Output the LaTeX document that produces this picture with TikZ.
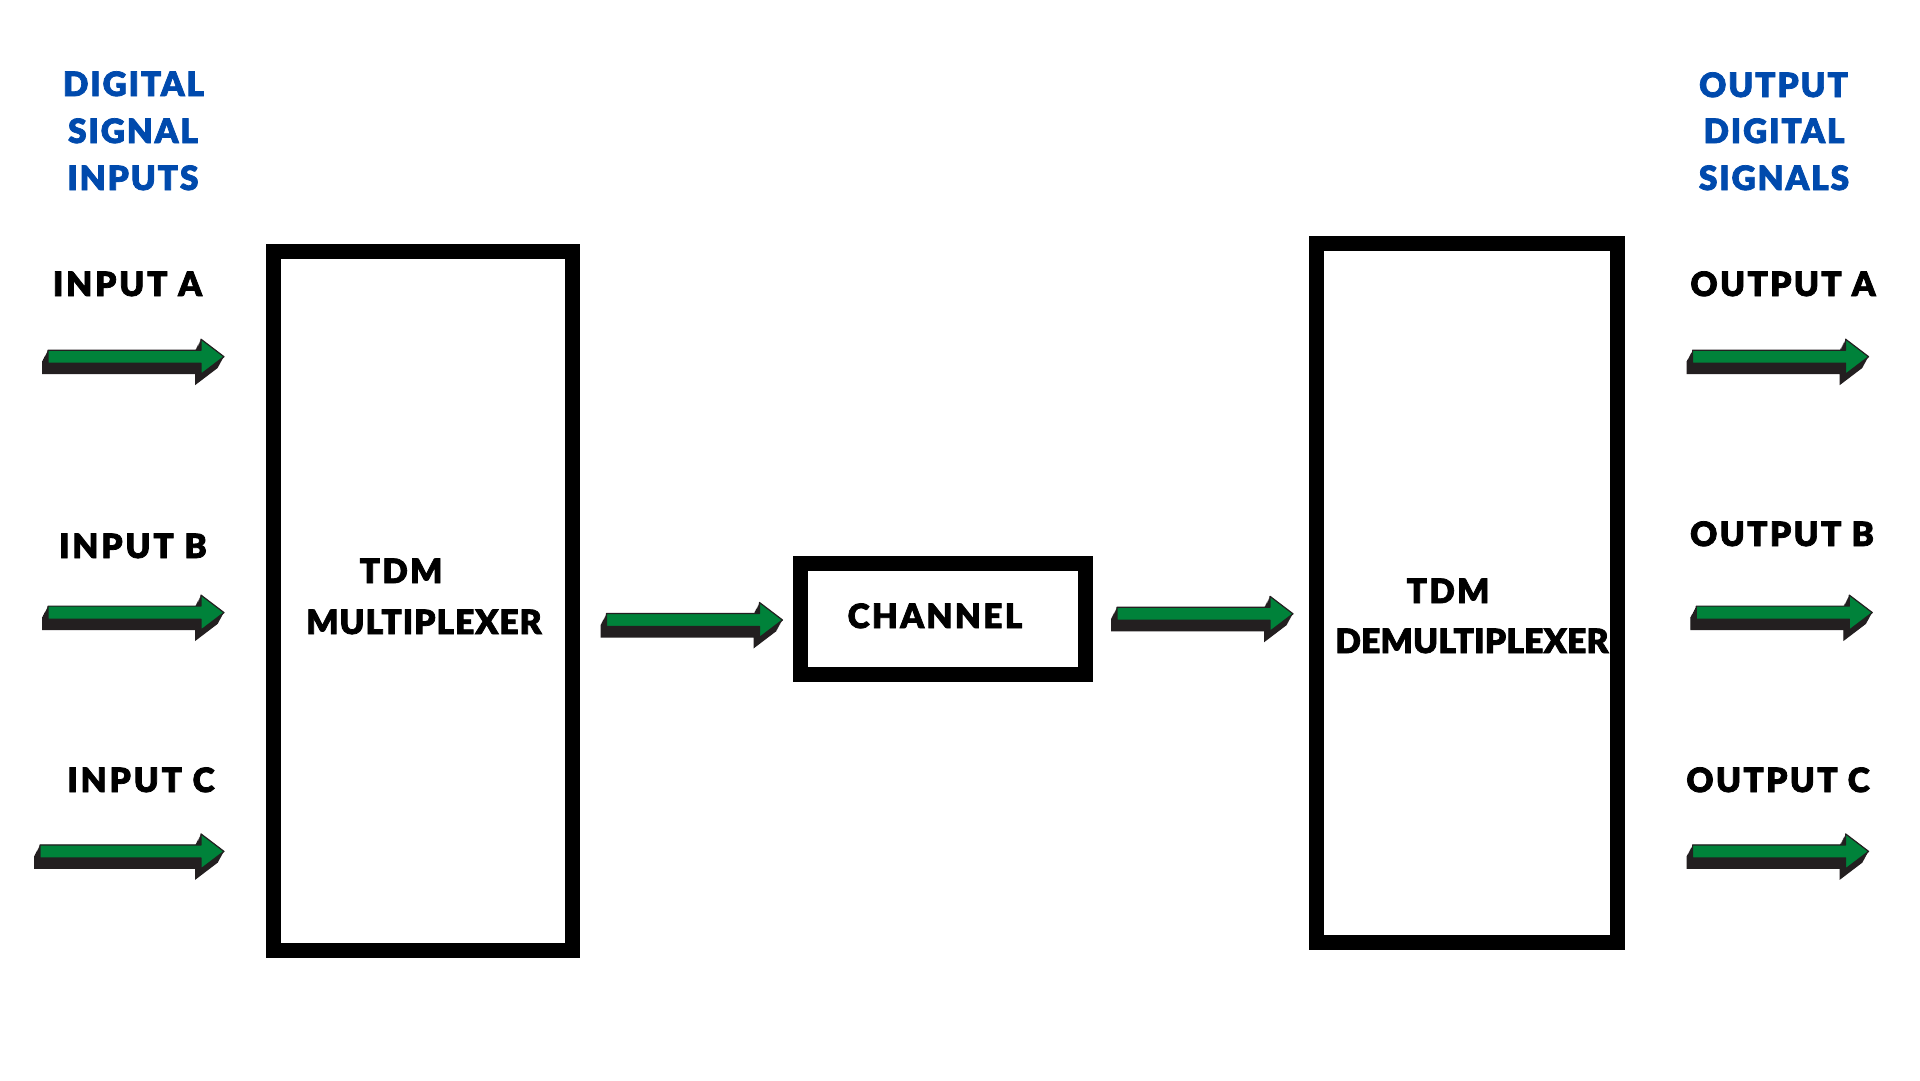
\documentclass[tikz,border=0pt]{standalone}
\usepackage{fontspec}
\setmainfont{Lato}[UprightFont=* Black, LetterSpace=7, FakeBold=2.2]
\newfontfamily\narrowf{Lato}[UprightFont=* Black, LetterSpace=3, FakeBold=2.2]
\newfontfamily\narrowerf{Lato}[UprightFont=* Black, LetterSpace=0.8, FakeBold=2.2]
\newfontfamily\bluef{Lato}[UprightFont=* Black, LetterSpace=5.5, FakeBold=2.2]
\newfontfamily\widef{Lato}[UprightFont=* Black, LetterSpace=8.5, FakeBold=2.2]
\definecolor{arrgreen}{RGB}{0,130,58}
\definecolor{arrshadow}{RGB}{35,31,32}
\definecolor{sigblue}{RGB}{0,74,173}
\newcommand\blockarr[3]{%
  \begin{scope}[shift={(#1-#3,#2)}]
    \foreach \t in {0,...,11}{%
      \fill[arrshadow, shift={({-6*\t/11},\t)}] (0,-6.5) -- ({#3-23},-6.5) -- ({#3-23},-17.5) -- (#3,0) -- ({#3-23},17.5) -- ({#3-23},6.5) -- (0,6.5) -- cycle;}
    \filldraw[fill=arrgreen, draw=arrshadow, line width=1.2pt, line join=round] (0,-6.5) -- ({#3-23},-6.5) -- ({#3-23},-17.5) -- (#3,0) -- ({#3-23},17.5) -- ({#3-23},6.5) -- (0,6.5) -- cycle;
  \end{scope}}
\begin{document}
\begin{tikzpicture}[x=1pt,y=-1pt,
  lbl/.style={inner sep=0pt, anchor=base, font=\fontsize{33.5}{40}\selectfont},
  iolbl/.style={lbl, font=\fontsize{33.5}{40}\widef},
  bluelbl/.style={lbl, text=sigblue, font=\fontsize{33.5}{40}\bluef},
  blk/.style={draw=black, line width=15pt, inner sep=0pt, fill=white}]
\useasboundingbox[fill=white] (0,0) rectangle (1920,1080);
% boxes
\node[blk, minimum width=299pt, minimum height=699.5pt] (mux) at (423,600.75) {};
\node[blk, minimum width=285.5pt, minimum height=111pt] (chan) at (942.75,619) {};
\node[blk, minimum width=301pt, minimum height=699.5pt] (demux) at (1467,592.75) {};
% box labels
\node[lbl] (muxa) at (401,583) {TDM};
\node[lbl, font=\fontsize{33.5}{40}\narrowf] (muxb) at (424,634) {MULTIPLEXER};
\node[lbl] (chant) at (935,628) {CHANNEL};
\node[lbl] (demuxa) at (1448,603) {TDM};
\node[lbl, font=\fontsize{33.5}{40}\narrowerf] (demuxb) at (1472,653) {DEMULTIPLEXER};
% headings
\node[bluelbl] (li1) at (133.5,96) {DIGITAL};
\node[bluelbl] (li2) at (133,143) {SIGNAL};
\node[bluelbl] (li3) at (133,190) {INPUTS};
\node[bluelbl] (ro1) at (1773.5,97) {OUTPUT};
\node[bluelbl] (ro2) at (1774,143) {DIGITAL};
\node[bluelbl] (ro3) at (1774,190) {SIGNALS};
% input / output labels
\node[iolbl] (ina) at (127.5,296) {INPUT A};
\node[iolbl] (inb) at (133,558) {INPUT B};
\node[iolbl] (inc) at (141,792) {INPUT C};
\node[lbl] (outa) at (1783,296) {OUTPUT A};
\node[lbl] (outb) at (1782,546) {OUTPUT B};
\node[lbl] (outc) at (1778,792) {OUTPUT C};
% arrows
\blockarr{224}{356.7}{176}
\blockarr{224}{612.6}{176}
\blockarr{224}{851.4}{184}
\blockarr{782.5}{620}{176}
\blockarr{1293}{613.8}{176}
\blockarr{1868.6}{356.7}{176}
\blockarr{1872.3}{612.6}{176}
\blockarr{1868.6}{851.4}{176}
\end{tikzpicture}
\end{document}
